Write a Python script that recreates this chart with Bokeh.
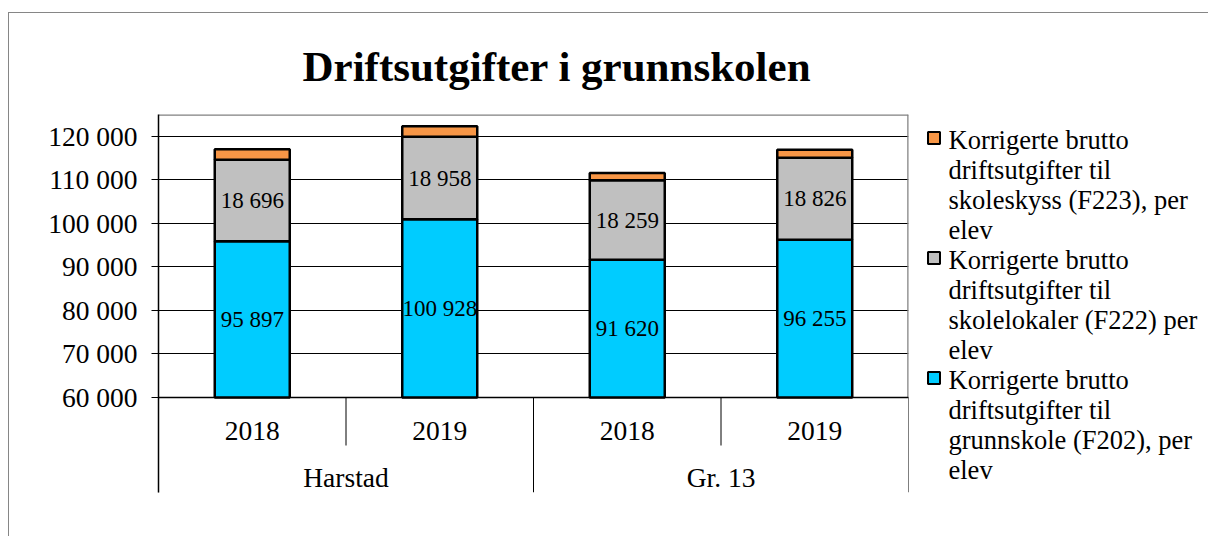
from bokeh.plotting import figure
from bokeh.layouts import row
from bokeh.models import (FactorRange, Range1d, FixedTicker)
from bokeh.embed import file_html
from bokeh.resources import INLINE
from bokeh.core.properties import value

# ---- data ----
regions = ["Harstad", "Harstad", "Gr. 13", "Gr. 13"]
years = ["2018", "2019", "2018", "2019"]
group_names = ["Harstad", "Gr. 13"]
grunnskole = [95897, 100928, 91620, 96255]      # F202
skolelokaler = [18696, 18958, 18259, 18826]     # F222
skoleskyss = [2400, 2400, 1700, 1800]           # F223 (estimated)
series_labels = [
    "Korrigerte brutto\ndriftsutgifter til\ngrunnskole (F202), per\nelev",
    "Korrigerte brutto\ndriftsutgifter til\nskolelokaler (F222) per\nelev",
    "Korrigerte brutto\ndriftsutgifter til\nskoleskyss (F223), per\nelev",
]
y_ticks = [60000, 70000, 80000, 90000, 100000, 110000, 120000]
y_tick_labels = ["60 000", "70 000", "80 000", "90 000", "100 000", "110 000", "120 000"]
title_text = "Driftsutgifter i grunnskolen"

FONT = "Liberation Serif"
colors = ["#00CCFF", "#C0C0C0", "#F79646"]

# ---- geometry (pixels) ----
H = 523
TOP = 101             # frame top in canvas px
PLOT_H = 283          # height of value area (60 000 .. 125 000)
AXIS_AREA = 95        # category label area below the value axis
BOTTOM = TOP + PLOT_H + AXIS_AREA
Y0, Y1 = 60000, 125000
upp = (Y1 - Y0) / PLOT_H
Y_BOTTOM = Y0 - AXIS_AREA * upp

factors = list(zip(regions, years))
n = len(factors)

# stacks
b0 = [Y0] * n
t0 = grunnskole
t1 = [a + b for a, b in zip(t0, skolelokaler)]
t2 = [a + b for a, b in zip(t1, skoleskyss)]

p = figure(width=904, height=H, output_backend="svg", toolbar_location=None,
           x_range=FactorRange(*factors, range_padding=0, factor_padding=0,
                               group_padding=0, subgroup_padding=0),
           y_range=Range1d(Y_BOTTOM, Y1),
           min_border_left=149, min_border_right=5,
           min_border_top=TOP, min_border_bottom=H - BOTTOM)

# gridlines (value lines)
p.xgrid.grid_line_color = None
p.ygrid.ticker = FixedTicker(ticks=y_ticks)
p.ygrid.grid_line_color = "black"
p.ygrid.grid_line_width = 1
p.outline_line_color = None

# plot-area border (top and right)
p.segment(x0=[0, n], y0=[Y1, Y1], x1=[n, n], y1=[Y1, Y0],
          line_color="#808080", line_width=2.5)
# category axis line
p.segment(x0=[0], y0=[Y0], x1=[n], y1=[Y0], line_color="black", line_width=1.5)

# bars
for bot, top, col in ((b0, t0, colors[0]), (t0, t1, colors[1]), (t1, t2, colors[2])):
    p.vbar(x=factors, bottom=bot, top=top, width=0.4, fill_color=col,
           line_color="black", line_width=2.5)

# data labels
mid_blue = [(Y0 + g) / 2 for g in grunnskole]
mid_gray = [g + s / 2 for g, s in zip(grunnskole, skolelokaler)]
p.text(x=factors + factors, y=mid_blue + mid_gray,
       text=[f"{v:,}".replace(",", " ") for v in grunnskole + skolelokaler],
       text_font=value(FONT), text_font_size="23px", text_align="center",
       text_baseline="middle", text_color="black")

# category labels and separators
p.text(x=factors, y=[Y0 - 33 * upp] * n, text=years, text_font=value(FONT),
       text_font_size="27.5px", text_align="center", text_baseline="middle",
       text_color="black")
p.text(x=group_names, y=[Y0 - 80 * upp] * len(group_names), text=group_names,
       text_font=value(FONT), text_font_size="27.5px", text_align="center",
       text_baseline="middle", text_color="black")
sep_x, sep_y1 = [], []
for i in range(n + 1):
    edge = (i == 0 or i == n or regions[i - 1] != regions[i])
    sep_x.append(i)
    sep_y1.append(Y_BOTTOM if edge else Y0 - 48 * upp)
p.segment(x0=sep_x, y0=[Y0] * len(sep_x), x1=sep_x, y1=sep_y1,
          line_color="black", line_width=1)

# axes
p.xaxis.visible = False
p.yaxis.ticker = FixedTicker(ticks=y_ticks)
p.yaxis.major_label_overrides = {t: l for t, l in zip(y_ticks, y_tick_labels)}
p.yaxis.major_label_text_font = FONT
p.yaxis.major_label_text_font_size = "27.5px"
p.yaxis.major_label_text_color = "black"
p.yaxis.major_tick_out = 7
p.yaxis.major_tick_in = 0
p.yaxis.minor_tick_line_color = None
p.yaxis.major_label_standoff = 14
p.yaxis.axis_line_color = "black"
p.yaxis.axis_line_width = 1.5
p.yaxis.major_tick_line_color = "black"

# title
p.title.text = title_text
p.title.text_font = FONT
p.title.text_font_size = "43px"
p.title.text_font_style = "bold"
p.title.text_color = "black"
p.title.align = "left"
p.title.offset = 144
p.title.standoff = 49

# ---- legend panel (canvas-pixel coordinates, frame aligned with main plot) ----
LW = 295
LINE_H = 30
FIRST_LINE = 126
leg = figure(width=LW, height=H, output_backend="svg", toolbar_location=None,
             x_range=Range1d(0, LW), y_range=Range1d(BOTTOM, TOP),
             min_border_left=0, min_border_right=0,
             min_border_top=TOP, min_border_bottom=H - BOTTOM,
             outline_line_color=None)
leg.axis.visible = False
leg.grid.visible = False
order = [2, 1, 0]
sq_y, sq_c, tx, ty = [], [], [], []
line_no = 0
for i in order:
    lines = series_labels[i].split("\n")
    sq_y.append(FIRST_LINE + line_no * LINE_H - 1.5)
    sq_c.append(colors[i])
    for ln in lines:
        tx.append(ln)
        ty.append(FIRST_LINE + line_no * LINE_H)
        line_no += 1
leg.rect(x=[20.5] * len(sq_y), y=sq_y, width=12, height=12, fill_color=sq_c,
         line_color="black", line_width=2)
leg.text(x=[35] * len(tx), y=ty, text=tx, text_font=value(FONT),
         text_font_size="26.5px", text_align="left", text_baseline="middle",
         text_color="black")

layout = row(p, leg, spacing=0)
layout.styles = {"border-top": "1px solid #868686", "border-left": "1px solid #868686",
                 "margin-top": "12px", "margin-left": "8px"}

open("out.html", "w").write(file_html(layout, INLINE))
